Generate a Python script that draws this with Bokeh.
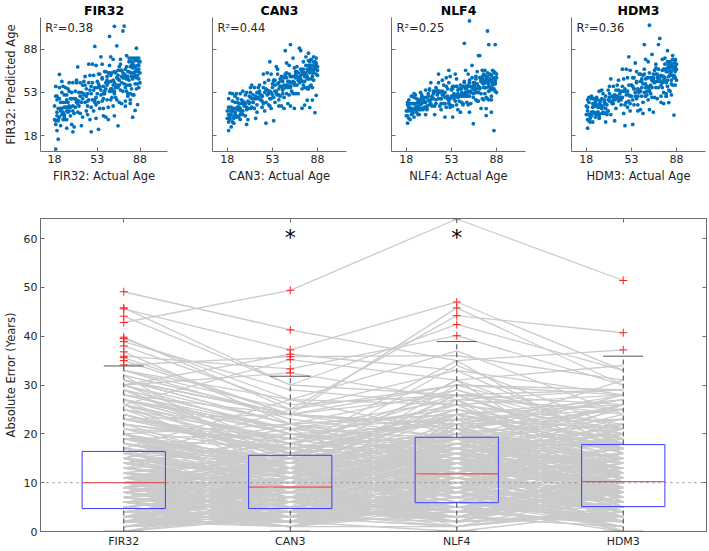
from bokeh.plotting import figure
from bokeh.layouts import column, row
from bokeh.models import Range1d, LinearAxis, FixedTicker, Span, Label
from bokeh.embed import file_html
from bokeh.resources import INLINE
from bokeh.core.properties import value

FONT = "DejaVu Sans"
AX = "#6e6e6e"
TXT = "#262626"

models = ["FIR32", "CAN3", "NLF4", "HDM3"]
r2_text = ["R\u00b2=0.38", "R\u00b2=0.44", "R\u00b2=0.25", "R\u00b2=0.36"]
age_ticks = [18, 53, 88]
err_ticks = [0, 10, 20, 30, 40, 50, 60]

# actual ages of subjects
ages = [18, 19, 19, 20, 20, 21, 21, 22, 22, 23, 23, 24, 24, 24, 25, 25, 26, 26, 26, 27,
        27, 27, 28, 28, 28, 29, 29, 29, 18, 20, 22, 25, 23, 21, 28,
        30, 30, 31, 31, 32, 32, 33, 33, 34, 34, 35, 35, 36, 36, 37, 37, 38, 38, 39, 39,
        40, 40, 41, 41, 42, 42, 43, 43, 44, 44, 30, 33, 36, 40, 43,
        45, 45, 46, 46, 47, 47, 48, 48, 49, 49, 50, 50, 51, 51, 52, 52, 53, 53, 54, 54,
        55, 55, 56, 56, 57, 57, 58, 58, 59, 59, 46, 48, 51, 54, 57, 45, 49, 52, 55, 58,
        60, 60, 61, 61, 62, 62, 63, 64, 64, 65, 65, 66, 66, 67, 67, 68, 68, 69, 69, 70,
        70, 71, 71, 72, 72, 73, 73, 74, 74, 62, 64, 66, 69, 72, 60, 63, 67, 71, 74, 65,
        75, 75, 76, 76, 77, 77, 78, 78, 79, 79, 80, 80, 81, 81, 82, 82, 83, 83, 84, 84,
        85, 85, 86, 86, 87, 87, 88, 88, 76, 79, 81, 83, 85, 87, 77, 80, 84, 86, 78, 82, 81, 19,
        82, 22, 84, 70, 86, 67, 19, 80, 63, 76, 87, 78, 20, 80,
        55, 58, 61, 64, 66, 68, 70, 72, 73, 75, 76, 77, 78, 79, 80, 81, 82, 83, 84, 85,
        86, 87, 88, 60, 62, 63, 65, 67, 69, 71, 74, 50, 52, 53, 56, 57, 59, 47, 44, 42,
        39, 37, 35, 33, 31, 29, 27, 26, 24, 23, 21, 20, 19, 25, 28, 30, 32, 34, 36, 38,
        41, 45, 48, 51, 54, 58, 61, 64, 67, 70, 73, 75, 77, 79, 81, 83, 84, 85, 86, 87]

# signed prediction errors (predicted - actual), one list per model
err_fir32 = [24, 8, 31, 14, 27, -6, 19, 35.0, 11, 22, 3, 29, 16, 38.0, 12, 20, 7, 25, 15, 30,
             4, 18, 10, 23, -4, 16, 27, 8, 13, 2, 26, 33, 17, 9, 19,
             12, 24, 3, 17, -5, 21, 9, 28, 14, -9, 19, 6, 25, 11, 0, 36.8, 15, 8, 22, -3,
             13, 5, 18, -8, 10, 20, 2, 16, -6, 12, 31, -12, 27, -14, 23,
             7, -10, 15, 1, -16, 20, 4, -7, 12, -2, 17, -12, 6, -4, 23, -20, 9, -1, -9, 14,
             3, -15, 26, -5, 8, -11, 0, -24, 11, -7, 30, -27, 39.5, -31, 19, -3, 27, -9, 13, -18,
             -4, 10, -14, 2, -21, 7, -9, -2, -17, 4, -11, 14, -24, -6, -15, 1, -19, -10, 22, -13,
             -3, -26, -8, 8, -17, -12, -29, -5, 29, -31, 18, -7, -22, -1, -27, 12, -33, 3, -20, -16,
             -10, 32, -19, -4, -23, -13, -8, -28, -16, 2, -21, -11, -25, -6, -18, -31, -14, -2, -24, -10,
             -20, -29, -7, -16, -23, -12, -19, -27, -30, -1, -15, -32, 4, -9, 6, -33, -17, -26, -12, -5, -3, -12,
             -49.1, 45.8, -45.6, -44.1, -42.8, 39.8, 38.9, -35.9, 35.6, -34.1, -30, -26, 30, -28,
             2, -6, 5, -8, -3, -11, -6, 4, -7, -15, -9, -3, -14, -20, -6, -12, -9, -17, -5, -13,
             -11, -15, -10, 1, -1, 6, -9, 3, -4, -12, -9, 5, -3, 4, -1, 7, -5, 8, 6, 9,
             11, 7, 13, 5, 10, 12, 14, 9, 11, 15, 10, 17, 11, 6, 3, 8, 16, 2, 9, 4,
             7, 1, 10, -6, 6, -10, -2, 3, -13, 1, -2, -7, -18, -9, 0, -8, -14, -4, -19, -6]

err_can3 = [14, 10, 22, 18, 13, 4, 20, 24, 7, 17, 9, 21, 11, 26, 15, 8, 13, 19, 22, 17,
            6, 14, 12, 24, 3, 9, 18, 15, 20, 11, 16, 27, 5, 17, 10,
            8, 16, 11, 14, 2, 19, 6, 20, 12, -3, 15, 9, 13, 17, 4, 22, 7, 13, 18, 1,
            10, 8, 12, -4, 15, 6, 9, 11, 3, 7, 24, -6, 21, -8, 16,
            5, -4, 11, -2, -9, 14, 8, -3, 6, 2, 13, -7, 3, -9, 16, -12, 4, 7, -5, 9,
            -1, -10, 18, -2, 11, -6, 3, -16, 5, -9, 22, -20, 27, -24, 15, 1, 20, -4, 8, -11,
            -2, 6, -9, -5, -13, 3, -6, 1, -12, -3, -8, 9, -15, -10, -6, -2, -14, -7, 12, -9,
            -11, -19, -3, 2, -13, -8, -21, -9, 15, -22, 13, -4, -17, -6, -18, 5, -25, -1, -12, -21,
            -8, 12, -14, -6, -18, -9, -12, -21, -10, -4, -16, -14, -17, -2, -13, -24, -19, -8, -15, -12,
            -22, -16, -10, -14, -19, -6, -17, -21, -20, 3, -25, -24, -3, -13, 1, -23, -27, -11, -16, -9, 4, 3,
            -41.3, 30, -37.2, -30, -49.4, 25, 29, -33.3, 24, -35.8, -36.3, -35.2, 32.5, -24,
            4, -2, 1, -5, 2, -7, -4, -2, -10, -11, -7, -5, -9, -13, -8, -10, -4, -12, -9, -15,
            -8, -12, -14, 3, -3, 4, -6, -1, -8, -6, -13, 2, 1, -2, -4, 3, -1, 6, 3, 7,
            9, 11, 10, 8, 13, 9, 12, 15, 13, 10, 14, 12, 16, 9, 7, 5, 12, 6, 4, 7,
            2, 5, 7, -3, 8, -7, -6, 5, -9, 3, -4, -3, -15, -11, -6, -3, -18, -7, -13, -10]

err_nlf4 = [20, 15, 24, 12, 21, 10, 17, 22, 18, 14, 13, 25, 9, 28, 19, 16, 11, 22, 14, 20,
            15, 8, 17, 19, 12, 14, 24, 10, 16, 19, 13, 26, 21, 23, 7,
            14, 19, 8, 18, 9, 13, 16, 22, 6, 5, 17, 12, 10, 20, 7, 24, 11, 4, 15, 9,
            14, 2, 16, 3, 9, 13, 5, 18, -2, 10, 21, 2, 19, -5, 25,
            3, -6, 8, 5, -3, 12, -4, 1, 9, -8, 6, -2, 10, -5, 14, -9, -3, 2, -12, 4,
            -7, -4, 12, -10, 1, -14, -6, -19, -3, -13, 17, -15, 20, -21, 7, -1, 16, -11, 3, -8,
            -9, -1, -16, -8, -19, -4, -13, -11, -6, -15, -20, 2, -12, -17, -9, -14, -24, -4, 6, -18,
            -21, -14, -12, -8, -25, -3, -27, -16, 9, -18, 7, -23, -11, -19, -23, -2, -30, -10, -28, -8,
            -18, 8, -24, -13, -29, -16, -21, -17, -27, -12, -23, -31, -20, -15, -28, -22, -26, -19, -34, -17,
            -29, -24, -21, -31, -26, -18, -35, -23, -12, -8, -33, -28, -14, 5, -6, -19, -37, -30, -10, 10, 22, 9,
            -35, 28, -47.0, -42.4, -64.0, 44.2, 26, -40.1, 30, -36, -33, -31, 27, -45.8,
            -3, -9, -5, -12, -7, -15, -9, -6, -13, -19, -14, -11, -18, -22, -15, -18, -24, -20, -22, -26,
            -17, -24, -20, -4, -10, -1, -13, -6, -12, -16, -21, 0, -4, 3, -6, 1, -9, 4, 9, 11,
            13, 10, 15, 12, 16, 17, 18, 13, 20, 16, 18, 21, 19, 14, 11, 10, 14, 8, 7, 12,
            6, 3, 5, -7, 2, -3, -11, -8, -4, -14, -17, -10, -13, -16, -12, -15, -28, -21, -16, -27]

err_hdm3 = [17, 22, 19, 10, 25, 8, 14, 28, 15, 21, 6, 18, 13, 24, 11, 19, 9, 23, 16, 14,
            10, 20, 7, 26, 5, 12, 17, 14, 24, 15, 12, 21, 18, 11, 16,
            10, 18, 6, 21, 4, 15, 11, 17, 9, 1, 20, 3, 16, 13, -2, 27, 8, 12, 19, 5,
            7, 11, 14, -1, 6, 17, 3, 12, 8, 4, 25, -4, 22, -10, 20,
            9, -2, 12, 3, -11, 17, 6, -5, 2, -4, 15, -9, 8, 0, 19, -14, 6, -3, -7, 11,
            1, -12, 21, -6, 4, -9, -2, -20, 9, -4, 26, -22, 31, -27, 13, 4, 23, -8, 10, -15,
            -6, 8, -11, 1, -17, 5, -10, -4, -14, 0, -7, 12, -19, -9, -13, -3, -16, -12, 15, -8,
            -6, -22, -10, 4, -15, -11, -25, -2, 18, -26, 16, -9, -20, -4, -21, 9, -28, 0, -17, -14,
            -12, 22, -17, -9, -20, -11, -6, -25, -14, -3, -19, -10, -23, -8, -16, -27, -12, -5, -21, -14,
            -18, -26, -9, -19, -22, -13, -16, -25, -26, 2, -18, -29, -2, -7, 3, -28, -24, -21, -15, -6, 6, 5,
            -37.2, 26, -33, -33, -51.4, 40.7, 28, -30, 29, -31, -28, -34, 29, -30,
            1, -4, 3, -7, -1, -9, -5, 1, -8, -13, -10, -6, -12, -17, -9, -11, -7, -15, -8, -11,
            -14, -17, -12, 2, -2, 5, -11, 2, -6, -9, -11, 4, -2, 6, -3, 5, -6, 7, 5, 8,
            10, 9, 12, 7, 11, 13, 10, 16, 12, 14, 13, 15, 12, 8, 4, 6, 13, 3, 10, 6,
            9, 2, 8, -5, 4, -8, -4, 0, -12, -2, -5, -9, -16, -7, -3, -10, -17, -5, -20, -8]

# box statistics (years)
box_q1 = [4.7, 4.7, 5.9, 5.1]
box_median = [10.0, 9.1, 11.8, 10.2]
box_q3 = [16.4, 15.6, 19.3, 17.8]
box_whisker_hi = [33.9, 31.8, 38.9, 35.9]
box_whisker_lo = [0.0, 0.0, 0.0, 0.0]
reference_line = 10.0
star_models = [2, 3]
star_level = 60.2

errs = [err_fir32, err_can3, err_nlf4, err_hdm3]
positions = [1, 2, 3, 4]


def style_axis(ax, labels=True, fs="11px"):
    ax.axis_line_color = AX
    ax.major_tick_line_color = AX
    ax.major_tick_in = 4
    ax.major_tick_out = 0
    ax.minor_tick_line_color = None
    ax.major_label_text_font = FONT
    ax.major_label_text_font_size = fs
    ax.major_label_text_color = TXT
    ax.axis_label_text_font = FONT
    ax.axis_label_text_font_size = "11.5px"
    ax.axis_label_text_font_style = "normal"
    ax.axis_label_text_color = TXT
    ax.major_label_standoff = 3
    ax.axis_label_standoff = 3
    if not labels:
        ticks = ax.ticker.ticks
        ax.major_label_overrides = {t: "" for t in ticks}
        ax.major_label_standoff = 0


tops = []
widths = [190, 180, 180, 158]
lefts = [33, 22, 21, 21]
rights = [23, 24, 25, 3]
for i, m in enumerate(models):
    f = figure(width=widths[i], height=186, x_range=Range1d(6.5, 110.5), y_range=Range1d(5, 114),
               output_backend="svg", toolbar_location=None, title=m,
               min_border_left=lefts[i], min_border_right=rights[i],
               min_border_top=14, min_border_bottom=35)
    f.title.align = "center"
    f.title.text_font = FONT
    f.title.text_font_size = "12.5px"
    f.title.text_font_style = "bold"
    f.title.text_color = "#000000"
    f.title.standoff = 0
    f.grid.visible = False
    f.outline_line_color = None
    f.xaxis[0].ticker = FixedTicker(ticks=age_ticks)
    f.yaxis[0].ticker = FixedTicker(ticks=age_ticks)
    style_axis(f.xaxis[0])
    style_axis(f.yaxis[0], labels=(i == 0))
    f.xaxis.axis_label = m + ": Actual Age"
    if i == 0:
        f.yaxis.axis_label = "FIR32: Predicted Age"
    preds = [a + e for a, e in zip(ages, errs[i])]
    f.scatter(ages, preds, size=3.8, fill_color="#0072BD", line_color=None)
    f.add_layout(Label(x=10.3, y=105.3, text=r2_text[i], text_font=FONT, text_font_size="11.5px",
                       text_color=TXT, text_baseline="middle", text_align="left"))
    tops.append(f)

big = figure(width=708, height=364, x_range=Range1d(0.5, 4.5), y_range=Range1d(0, 64.1),
             output_backend="svg", toolbar_location=None,
             min_border_left=34, min_border_right=2, min_border_top=32, min_border_bottom=18)
big.grid.visible = False
big.outline_line_color = AX
big.xaxis[0].ticker = FixedTicker(ticks=positions)
big.xaxis.major_label_overrides = {p: m for p, m in zip(positions, models)}
big.yaxis[0].ticker = FixedTicker(ticks=err_ticks)
style_axis(big.xaxis[0])
style_axis(big.yaxis[0])
big.yaxis.axis_label = "Absolute Error (Years)"
ax_r = LinearAxis(ticker=FixedTicker(ticks=err_ticks))
style_axis(ax_r, labels=False)
big.add_layout(ax_r, "right")
ax_t = LinearAxis(ticker=FixedTicker(ticks=positions))
style_axis(ax_t, labels=False)
big.add_layout(ax_t, "above")

# subject lines
n = len(ages)
line_xs = [positions for _ in range(n)]
line_ys = [[abs(errs[k][j]) for k in range(4)] for j in range(n)]
big.multi_line(line_xs, line_ys, line_color="#cbcbcb", line_width=1.3)

big.add_layout(Span(location=reference_line, dimension="width", line_color="#8a8a8a",
                    line_dash="dotted", line_width=1))

hw = 0.25
cw = 0.12
big.quad(left=[p - hw for p in positions], right=[p + hw for p in positions],
         bottom=box_q1, top=box_q3, fill_color=None, line_color="#3c3cff", line_width=1)
big.segment(x0=positions, y0=box_q3, x1=positions, y1=box_whisker_hi,
            line_color="#404040", line_dash="5 3", line_width=1)
big.segment(x0=positions, y0=box_whisker_lo, x1=positions, y1=box_q1,
            line_color="#404040", line_dash="5 3", line_width=1)
big.segment(x0=[p - cw for p in positions], y0=box_whisker_hi, x1=[p + cw for p in positions],
            y1=box_whisker_hi, line_color="#555555", line_width=1)
big.segment(x0=[p - cw for p in positions], y0=box_whisker_lo, x1=[p + cw for p in positions],
            y1=box_whisker_lo, line_color="#555555", line_width=1.5)
big.segment(x0=[p - hw for p in positions], y0=box_median, x1=[p + hw for p in positions],
            y1=box_median, line_color="#ff2a2a", line_width=1)

ox, oy = [], []
for k in range(4):
    for e in errs[k]:
        if abs(e) > box_whisker_hi[k]:
            ox.append(positions[k])
            oy.append(abs(e))
big.scatter(ox, oy, marker="cross", size=8, line_color="#ff2020", line_width=1)

big.text(x=star_models, y=[star_level] * len(star_models), text=["*"] * len(star_models),
         text_font=value(FONT), text_font_size="22px", text_align="center",
         text_baseline="middle", text_color="#000000")

layout = column(row(*tops), big)
open("out.html", "w").write(file_html(layout, INLINE))
